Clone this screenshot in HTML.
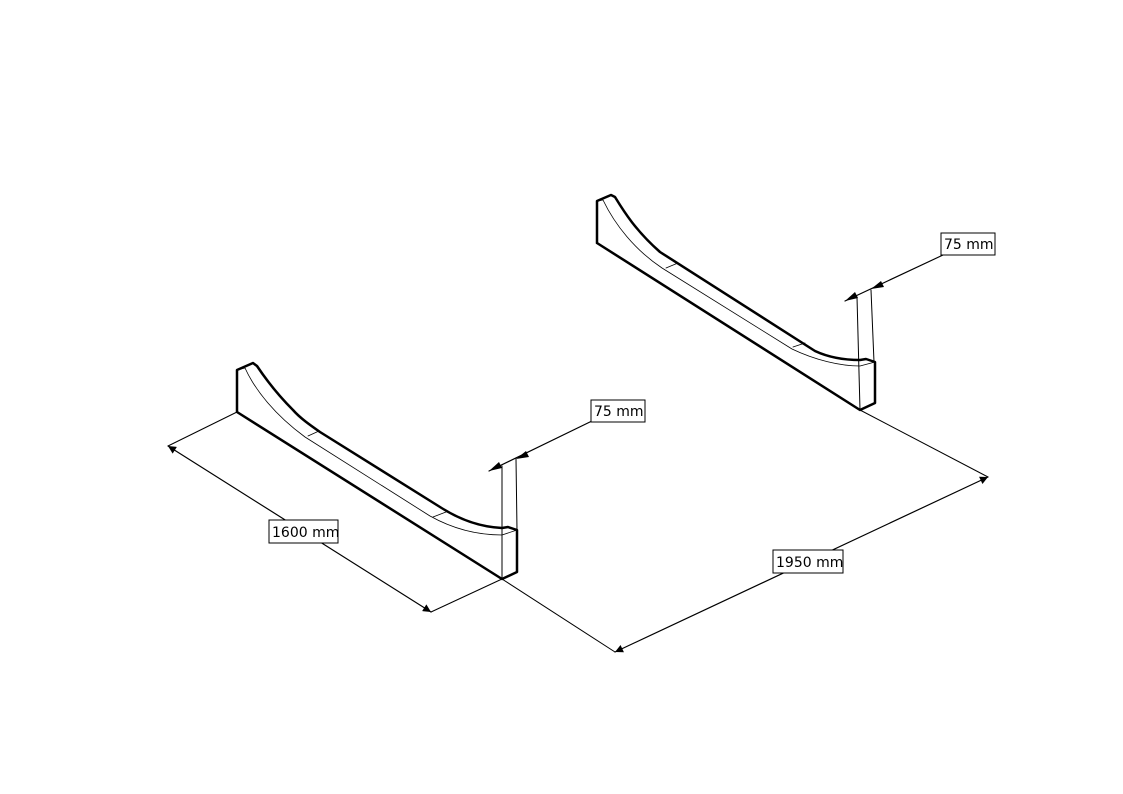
<!DOCTYPE html>
<html><head><meta charset="utf-8"><style>
html,body{margin:0;padding:0;background:#fff;}
svg{display:block;}
text{font-family:"DejaVu Sans","Liberation Sans",sans-serif;font-size:14px;fill:#000;}
</style></head><body>
<svg width="1123" height="794" viewBox="0 0 1123 794" xmlns="http://www.w3.org/2000/svg">
<defs>
<marker id="a" viewBox="0 0 10 10" refX="10" refY="5" markerWidth="13" markerHeight="8" markerUnits="userSpaceOnUse" orient="auto-start-reverse">
<path d="M0,0 L10,5 L0,10 z" fill="#000"/></marker>
</defs>
<g fill="none" stroke="#000" stroke-linejoin="round" stroke-linecap="round">
<!-- LEFT PIECE -->
<path d="M237,412 L237,370 L253,363 L257,366 C265,378 275,392 293,410 C300,418 310,425 320,432 L440,507 C460,520 480,527 502,528 L508,527 L517,530 L517,572 L502,579 L237,412" stroke-width="2.5"/>
<path d="M237,370 L245,368 C255,390 275,415 305,437 L430,516 C455,530 480,535 502,535 L517,530" stroke-width="0.8"/>
<path d="M308,436 L319,431 M433,517 L446,512" stroke-width="0.8"/>
<!-- RIGHT PIECE -->
<path d="M597,243 L597,201 L611,195 L615,197 C623,210 635,230 660,252 L815,351 C830,358 845,360 860,360 L866,359 L875,362 L875,403 L860,410 L597,243" stroke-width="2.5"/>
<path d="M597,201 L603,200 C615,225 635,250 662,268 L792,349 C815,360 840,366 860,366 L875,362" stroke-width="0.8"/>
<path d="M666,268 L678,263 M793,347 L805,343" stroke-width="0.8"/>
<!-- extension lines -->
<g stroke-width="1">
<path d="M502,466 L502,579 M516,459 L517,530"/>
<path d="M857,297 L860,410 M871,290 L874,362"/>
<path d="M237,412 L168,446 M502,579 L431,612"/>
<path d="M502,579 L615,652 M860,410 L988,477"/>
</g>
<!-- dimension lines -->
<g stroke-width="1.2">
<path d="M168,446 L431,612" marker-start="url(#a)" marker-end="url(#a)"/>
<path d="M615,652 L988,477" marker-start="url(#a)" marker-end="url(#a)"/>
<path d="M489,471 L594,420"/>
<path d="M845,301 L943,255"/>
</g>
</g>
<g fill="#000">
<polygon points="489,471 499,462 502,468"/>
<polygon points="516,459 526,451 529,457"/>
<polygon points="845,301 855,292 858,298"/>
<polygon points="871,289 881,281 884,287"/>
</g>
<!-- labels -->
<g stroke="#000" stroke-width="1" fill="#fff">
<rect x="269" y="520" width="69" height="23"/>
<rect x="591" y="400" width="54" height="22"/>
<rect x="773" y="550" width="70" height="23"/>
<rect x="941" y="233" width="54" height="22"/>
</g>
<text x="272" y="537">1600 mm</text>
<text x="594" y="416">75 mm</text>
<text x="776" y="567">1950 mm</text>
<text x="944" y="249">75 mm</text>
</svg>
</body></html>
